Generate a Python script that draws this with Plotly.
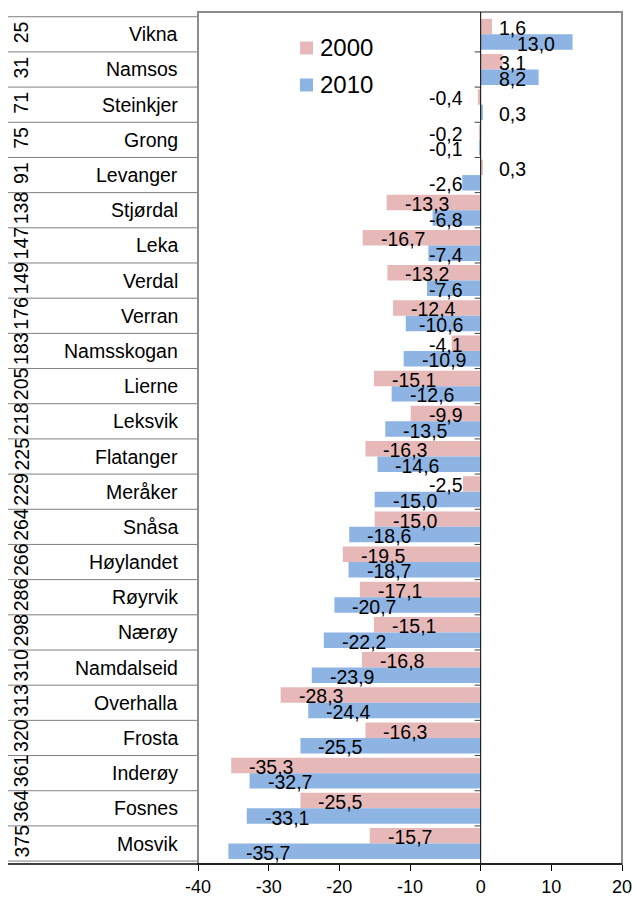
import plotly.graph_objects as go

# ---- data ----
names = ["Vikna", "Namsos", "Steinkjer", "Grong", "Levanger", "Stjørdal", "Leka", "Verdal",
         "Verran", "Namsskogan", "Lierne", "Leksvik", "Flatanger", "Meråker", "Snåsa",
         "Høylandet", "Røyrvik", "Nærøy", "Namdalseid", "Overhalla", "Frosta", "Inderøy",
         "Fosnes", "Mosvik"]
ranks = ["25", "31", "71", "75", "91", "138", "147", "149", "176", "183", "205", "218",
         "225", "229", "264", "266", "286", "298", "310", "313", "320", "361", "364", "375"]
v2000 = [1.6, 3.1, -0.4, -0.2, 0.3, -13.3, -16.7, -13.2, -12.4, -4.1, -15.1, -9.9,
         -16.3, -2.5, -15.0, -19.5, -17.1, -15.1, -16.8, -28.3, -16.3, -35.3, -25.5, -15.7]
v2010 = [13.0, 8.2, 0.3, -0.1, -2.6, -6.8, -7.4, -7.6, -10.6, -10.9, -12.6, -13.5,
         -14.6, -15.0, -18.6, -18.7, -20.7, -22.2, -23.9, -24.4, -25.5, -32.7, -33.1, -35.7]
series_names = ["2000", "2010"]
x_ticks = [-40, -30, -20, -10, 0, 10, 20]

# ---- layout constants ----
W, H = 637, 897
ML, MR, MT, MB = 198, 15, 12, 33
PW = W - ML - MR
PH = H - MT - MB
XMIN, XMAX = -40, 20
PX_PER_UNIT = PW / (XMAX - XMIN)
BAND = PH / len(names)
BARGAP = 0.12
OFF = BAND * (1 - BARGAP) / 4

FONT = "Liberation Sans, Arial, sans-serif"
FS = 19.5
PINK = "#E6B9B8"
BLUE = "#8EB4E3"
COLORS = [PINK, BLUE]

CW = {"-": 0.333, ",": 0.278}


def fmt(v):
    return f"{v:.1f}".replace(".", ",")


def text_w(s):
    return sum(CW.get(c, 0.556) for c in s) * FS


fig = go.Figure()
for vals, nm, col in zip((v2000, v2010), series_names, COLORS):
    fig.add_trace(go.Bar(y=names, x=vals, orientation="h", name=nm,
                         marker=dict(color=col, line=dict(width=0))))

annotations = []
PAD = 16
for vals, ysh in ((v2000, OFF - 1.5), (v2010, -OFF - 1.5)):
    for n, v in zip(names, vals):
        t = fmt(v)
        w = text_w(t)
        bar_px = v * PX_PER_UNIT
        if v < 0:
            if bar_px + PAD + w <= -PAD:
                ax, anc, xs = v, "left", PAD
            else:
                ax, anc, xs = 0, "right", -PAD
        else:
            if bar_px - PAD - w >= PAD:
                ax, anc, xs = v, "right", -PAD
            else:
                ax, anc, xs = 0, "left", PAD
        annotations.append(dict(x=ax, y=n, xref="x", yref="y", text=t, showarrow=False,
                                xanchor=anc, yanchor="middle", xshift=xs, yshift=ysh,
                                font=dict(family=FONT, size=FS, color="black")))

# category names and ranks in the left table
for n, r in zip(names, ranks):
    annotations.append(dict(x=(180 - ML) / PW, y=n, xref="paper", yref="y", text=n,
                            showarrow=False, xanchor="right", yanchor="middle",
                            font=dict(family=FONT, size=FS, color="black")))
    annotations.append(dict(x=(21 - ML) / PW, y=n, xref="paper", yref="y", text=r,
                            showarrow=False, xanchor="center", yanchor="middle",
                            textangle=-90, yshift=2,
                            font=dict(family=FONT, size=FS, color="black")))

shapes = []
n_cat = len(names)
for i in range(n_cat + 1):
    yb = i - 0.5
    shapes.append(dict(type="line", xref="paper", yref="y", x0=(8 - ML) / PW, x1=0,
                       y0=yb, y1=yb, line=dict(color="#7f7f7f", width=1)))
    if 0 < i < n_cat:
        shapes.append(dict(type="line", xref="x", yref="y", xsizemode="pixel", xanchor=0,
                           x0=-6, x1=0, y0=yb, y1=yb, line=dict(color="#404040", width=1)))
# plot frame
shapes.append(dict(type="rect", xref="paper", yref="paper", x0=0, x1=1, y0=0, y1=1,
                   line=dict(color="#8c8c8c", width=2)))
# bottom axis line extending under the table
shapes.append(dict(type="line", xref="paper", yref="paper", x0=(8 - ML) / PW, x1=1,
                   y0=0, y1=0, line=dict(color="black", width=1.3)))
# zero line
shapes.append(dict(type="line", xref="x", yref="paper", x0=0, x1=0, y0=0, y1=1,
                   line=dict(color="black", width=1)))

# manual legend (square swatch + text)
leg_y = [48, 85]
for nm, col, yc in zip(series_names, COLORS, leg_y):
    yp = 1 - (yc - MT) / PH
    hh = 6.5 / PH
    shapes.append(dict(type="rect", xref="paper", yref="paper",
                       x0=(300 - ML) / PW, x1=(313 - ML) / PW, y0=yp - hh, y1=yp + hh,
                       fillcolor=col, line=dict(width=0)))
    annotations.append(dict(x=(318 - ML) / PW, y=yp, xref="paper", yref="paper", text=nm,
                            showarrow=False, xanchor="left", yanchor="middle",
                            font=dict(family=FONT, size=24, color="black")))

fig.update_layout(
    width=W, height=H, autosize=False,
    margin=dict(l=ML, r=MR, t=MT, b=MB, pad=0, autoexpand=False),
    paper_bgcolor="white", plot_bgcolor="white",
    barmode="group", bargap=BARGAP, bargroupgap=0,
    font=dict(family=FONT, size=FS, color="black"),
    showlegend=False,
    xaxis=dict(range=[XMIN, XMAX], tickvals=x_ticks, ticktext=[str(t) for t in x_ticks],
               showgrid=False, zeroline=False, showline=False, ticks="outside", ticklen=6,
               tickcolor="black", tickwidth=1, automargin=False,
               tickfont=dict(family=FONT, size=18, color="black")),
    yaxis=dict(categoryorder="array", categoryarray=names, autorange="reversed",
               showticklabels=False, showgrid=False, zeroline=False, showline=False,
               ticks="", automargin=False),
    annotations=annotations,
    shapes=shapes,
)

fig.write_html(
    "out.html",
    config={"displayModeBar": False, "responsive": False},
    post_script="document.body.style.margin='0px';document.body.style.overflow='hidden';"
                "document.documentElement.style.overflow='hidden';",
)
